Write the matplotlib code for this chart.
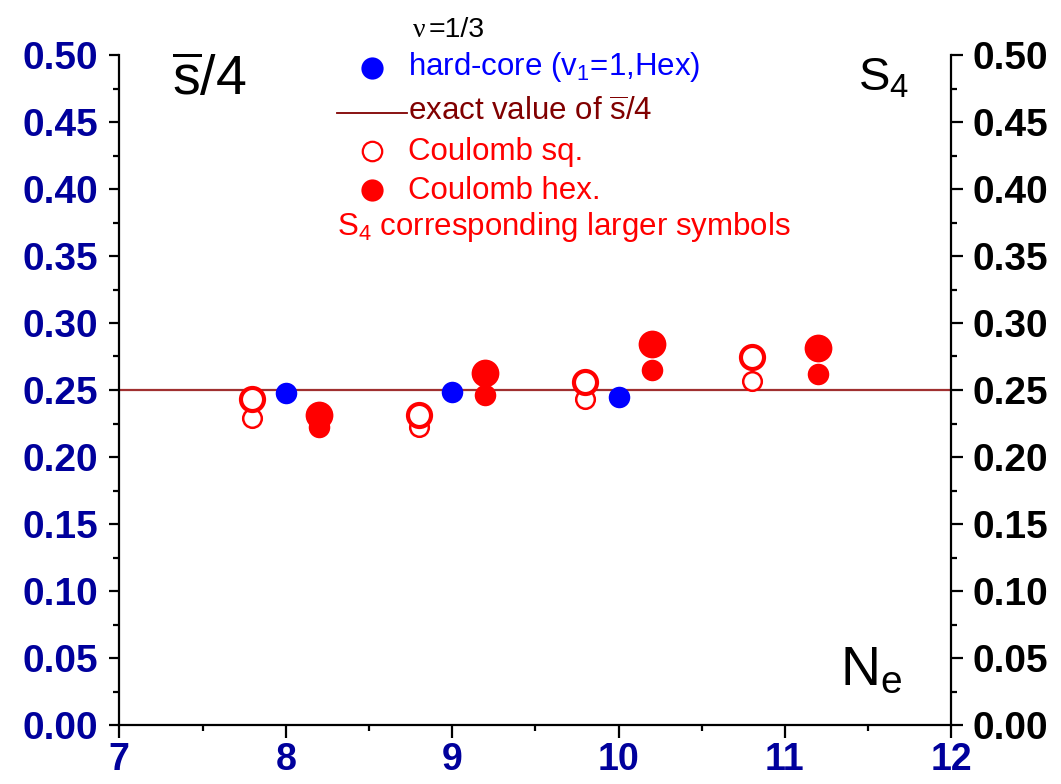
import matplotlib
matplotlib.use("Agg")
import matplotlib.pyplot as plt
from matplotlib.lines import Line2D
from matplotlib.ticker import MultipleLocator, FormatStrFormatter

# ---- data -------------------------------------------------------------
ne_hardcore = [8, 9, 10]
sbar_hardcore = [0.2475, 0.2483, 0.245]

ne_sq = [7.8, 8.8, 9.8, 10.8]
sbar_sq = [0.229, 0.2222, 0.2431, 0.2569]
S4_sq = [0.2431, 0.2313, 0.2562, 0.2744]

ne_hex = [8.2, 9.2, 10.2, 11.2]
sbar_hex = [0.2222, 0.2463, 0.2652, 0.2619]
S4_hex = [0.2313, 0.2625, 0.2840, 0.2811]

exact_sbar = 0.25

x_ticks = [7, 8, 9, 10, 11, 12]
y_ticks = [0.00, 0.05, 0.10, 0.15, 0.20, 0.25, 0.30, 0.35, 0.40, 0.45, 0.50]

# ---- style ------------------------------------------------------------
plt.rcParams["font.family"] = ["Liberation Sans", "DejaVu Sans"]
plt.rcParams["mathtext.fontset"] = "custom"
plt.rcParams["mathtext.rm"] = "Liberation Sans"
plt.rcParams["mathtext.it"] = "Liberation Sans:italic"
plt.rcParams["mathtext.bf"] = "Liberation Sans:bold"

BLUE = "#0000FF"
RED = "#FF0000"
LINE_RED = "#A03030"
DARK_RED = "#800000"
NAVY = "#00009C"

W, H = 1061, 784
fig = plt.figure(figsize=(W / 100, H / 100), dpi=100)
ax = fig.add_axes([119.3 / W, 1 - 725 / H, (951.3 - 119.3) / W, 670 / H])


def fpos(x, y):
    return x / W, 1 - y / H


# ---- marks ------------------------------------------------------------
ax.axhline(exact_sbar, color=LINE_RED, lw=1.6, zorder=1)

ax.plot(ne_sq, sbar_sq, ls="none", marker="o", ms=13.4, mfc="white",
        mec=RED, mew=1.8, zorder=3)
ax.plot(ne_sq, S4_sq, ls="none", marker="o", ms=16.6, mfc="white",
        mec=RED, mew=3.0, zorder=4)

ax.plot(ne_hex, sbar_hex, ls="none", marker="o", ms=15.5, mfc=RED,
        mec=RED, mew=0, zorder=3)
ax.plot(ne_hex, S4_hex, ls="none", marker="o", ms=20.0, mfc=RED,
        mec=RED, mew=0, zorder=4)

ax.plot(ne_hardcore, sbar_hardcore, ls="none", marker="o", ms=15.5,
        mfc=BLUE, mec=BLUE, mew=0, zorder=5)

# ---- axes -------------------------------------------------------------
ax.set_xlim(7, 12)
ax.set_ylim(0, 0.5)
ax.set_xticks(x_ticks)
ax.set_yticks(y_ticks)
ax.xaxis.set_minor_locator(MultipleLocator(0.5))
ax.yaxis.set_minor_locator(MultipleLocator(0.025))
ax.yaxis.set_major_formatter(FormatStrFormatter("%.2f"))

for side in ("top", "right"):
    ax.spines[side].set_visible(False)
for side in ("left", "bottom"):
    ax.spines[side].set_linewidth(1.6)

ax.tick_params(axis="both", which="major", direction="out", length=7.5,
               width=1.6, labelsize=28, labelcolor=NAVY)
ax.tick_params(axis="both", which="minor", direction="out", length=4,
               width=1.6)
ax.tick_params(axis="y", which="major", pad=8)
ax.tick_params(axis="x", which="major", pad=3, length=9.5, labelsize=27)
ax.tick_params(axis="x", which="minor", length=4.5)
for lab in ax.get_xticklabels() + ax.get_yticklabels():
    lab.set_fontweight("bold")

axr = ax.twinx()
axr.set_ylim(0, 0.5)
axr.set_yticks(y_ticks)
axr.yaxis.set_minor_locator(MultipleLocator(0.025))
axr.yaxis.set_major_formatter(FormatStrFormatter("%.2f"))
for side in ("top", "left", "bottom"):
    axr.spines[side].set_visible(False)
axr.spines["right"].set_linewidth(1.6)
axr.tick_params(axis="y", which="major", direction="out", length=8.5,
                width=1.6, labelsize=28, labelcolor="black", pad=7)
axr.tick_params(axis="y", which="minor", direction="out", length=4,
                width=1.6)
for lab in axr.get_yticklabels():
    lab.set_fontweight("bold")

# ---- corner labels ----------------------------------------------------
fig.text(*fpos(172, 95), r"$\overline{\mathrm{s}}$/4", fontsize=40,
         va="baseline", ha="left")
fig.text(*fpos(858, 90), r"S$_4$", fontsize=34, va="baseline", ha="left")
fig.text(*fpos(840, 685), r"N$_\mathrm{e}$", fontsize=40, va="baseline",
         ha="left")

# ---- key --------------------------------------------------------------
fig.text(*fpos(413, 37), "ν", fontsize=20, family="Liberation Serif",
         va="baseline", ha="left")
fig.text(*fpos(429, 37), "=1/3", fontsize=20.5, va="baseline", ha="left")

key_fs = 22.5
tx = 408
mx = 372
fig.add_artist(Line2D([fpos(mx, 0)[0]], [fpos(0, 68)[1]], ls="none",
                      marker="o", ms=16, mfc=BLUE, mec=BLUE, mew=0,
                      transform=fig.transFigure))
fig.text(*fpos(tx, 75), r"hard-core (v$_1$=1,Hex)", fontsize=key_fs,
         color=BLUE, va="baseline", ha="left")

fig.add_artist(Line2D([fpos(337, 0)[0], fpos(407, 0)[0]],
                      [fpos(0, 113)[1]] * 2, color=DARK_RED, lw=1.3,
                      transform=fig.transFigure))
fig.text(*fpos(tx, 121), r"exact value of $\overline{\mathrm{s}}$/4",
         fontsize=key_fs, color=DARK_RED, va="baseline", ha="left")

fig.add_artist(Line2D([fpos(mx, 0)[0]], [fpos(0, 151)[1]], ls="none",
                      marker="o", ms=14, mfc="white", mec=RED, mew=1.6,
                      transform=fig.transFigure))
fig.text(*fpos(tx, 160), "Coulomb sq.", fontsize=key_fs, color=RED,
         va="baseline", ha="left")

fig.add_artist(Line2D([fpos(mx, 0)[0]], [fpos(0, 190)[1]], ls="none",
                      marker="o", ms=16, mfc=RED, mec=RED, mew=0,
                      transform=fig.transFigure))
fig.text(*fpos(tx, 199), "Coulomb hex.", fontsize=key_fs, color=RED,
         va="baseline", ha="left")

fig.text(*fpos(337, 235), r"S$_4$ corresponding larger symbols",
         fontsize=key_fs, color=RED, va="baseline", ha="left")

fig.savefig("out.png", dpi=100)
